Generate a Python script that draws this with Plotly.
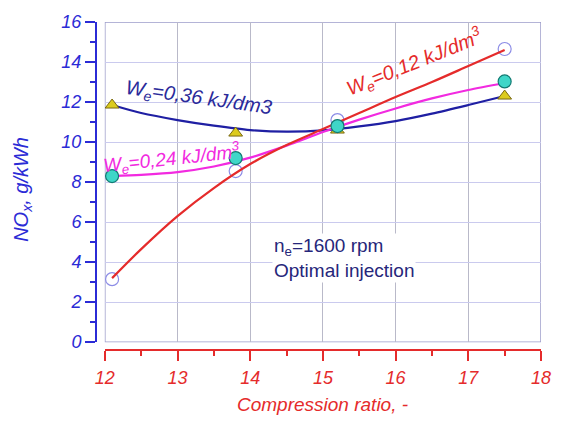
import plotly.graph_objects as go

# Measured points
x_meas = [12.1, 13.8, 15.2, 17.5]
nox_012 = [3.15, 8.55, 11.1, 14.65]
nox_024 = [8.3, 9.2, 10.8, 13.03]
nox_036 = [11.85, 10.45, 10.6, 12.3]

# Fitted curves
x_fit = [12.1, 12.5, 13, 13.5, 14, 14.5, 15, 15.5, 16, 16.5, 17, 17.5]
fit_012 = [3.2, 4.65, 6.3, 7.7, 8.9, 9.85, 10.65, 11.45, 12.25, 13.0, 13.8, 14.6]
fit_024 = [8.3, 8.36, 8.5, 8.78, 9.22, 9.82, 10.5, 11.12, 11.68, 12.18, 12.6, 12.95]
fit_036 = [11.85, 11.45, 11.1, 10.82, 10.6, 10.52, 10.58, 10.78, 11.05, 11.42, 11.85, 12.3]

x_ticks = [12, 13, 14, 15, 16, 17, 18]
y_ticks = [0, 2, 4, 6, 8, 10, 12, 14, 16]

RED = "#e52b2b"
BLUE_AX = "#2b2bd6"
NAVY = "#1f1fa3"
MAG = "#f22ae0"
FONT = "Liberation Sans, Arial, sans-serif"

fig = go.Figure()

fig.add_trace(go.Scatter(x=x_meas, y=nox_012, mode="markers",
                         marker=dict(symbol="circle-open", size=13, color="#8c8ce6", line=dict(width=1.2)),
                         showlegend=False))
fig.add_trace(go.Scatter(x=x_fit, y=fit_036, mode="lines",
                         line=dict(color=NAVY, width=2.2, shape="spline", smoothing=0.8),
                         showlegend=False))
fig.add_trace(go.Scatter(x=x_fit, y=fit_024, mode="lines",
                         line=dict(color=MAG, width=2.2, shape="spline", smoothing=0.8),
                         showlegend=False))
fig.add_trace(go.Scatter(x=x_fit, y=fit_012, mode="lines",
                         line=dict(color=RED, width=2.2, shape="spline", smoothing=0.8),
                         showlegend=False))
fig.add_trace(go.Scatter(x=x_meas, y=nox_036, mode="markers",
                         marker=dict(symbol="triangle-up", size=12, color="#dccb1e",
                                     line=dict(color="#7a6a12", width=1)),
                         showlegend=False))
fig.add_trace(go.Scatter(x=x_meas, y=nox_024, mode="markers",
                         marker=dict(symbol="circle", size=13, color="#3fd6c8",
                                     line=dict(color="#127a72", width=1.2)),
                         showlegend=False))

# frame
fig.add_shape(type="rect", xref="x", yref="y", x0=12, x1=18, y0=0, y1=16,
              line=dict(color="#9c9cca", width=1.5), layer="below")

fig.update_layout(
    width=563, height=422,
    margin=dict(l=96, r=13, t=15, b=72),
    paper_bgcolor="white", plot_bgcolor="white",
    font=dict(family=FONT),
    xaxis=dict(domain=[0.0198, 1], range=[12, 18], anchor="free", position=0,
               tickvals=x_ticks, ticks="outside", ticklen=10, tickwidth=2, tickcolor=RED,
               showline=True, linecolor=RED, linewidth=2,
               tickfont=dict(color=RED, size=18, style="italic", family=FONT),
               ticklabelstandoff=1,
               minor=dict(dtick=0.5, tick0=12, ticks="outside", ticklen=5, tickwidth=1.5, tickcolor=RED,
                          showgrid=False),
               showgrid=True, gridcolor="#b9b9c9", gridwidth=1, zeroline=False),
    yaxis=dict(domain=[0.0239, 1], range=[0, 16], anchor="free", position=0,
               tickvals=y_ticks, ticks="outside", ticklen=10, tickwidth=2, tickcolor=BLUE_AX,
               showline=True, linecolor=BLUE_AX, linewidth=2,
               tickfont=dict(color=BLUE_AX, size=18, style="italic", family=FONT),
               minor=dict(dtick=1, tick0=0, ticks="outside", ticklen=5, tickwidth=1.5, tickcolor=BLUE_AX,
                          showgrid=False),
               showgrid=True, gridcolor="#cacaee", gridwidth=1, zeroline=False),
)

# axis titles
fig.add_annotation(text="Compression ratio, -", xref="paper", yref="paper", x=0.509, y=-0.167,
                   showarrow=False, xanchor="center", yanchor="middle",
                   font=dict(color=RED, size=19, style="italic", family=FONT))
fig.add_annotation(text="NO<sub>x</sub>, g/kWh", xref="paper", yref="paper", x=-0.165, y=0.49,
                   showarrow=False, xanchor="center", yanchor="middle", textangle=-90,
                   font=dict(color=BLUE_AX, size=20, style="italic", family=FONT))

# curve labels
fig.add_annotation(text="W<sub>e</sub>=0,36 kJ/dm3", x=13.29, y=12.2, showarrow=False,
                   textangle=8, font=dict(color="#2a2a9a", size=20, style="italic", family=FONT))
fig.add_annotation(text="W<sub>e</sub>=0,24 kJ/dm<sup>3</sup>", x=12.92, y=9.2, showarrow=False,
                   textangle=-6, font=dict(color=MAG, size=19, style="italic", family=FONT))
fig.add_annotation(text="W<sub>e</sub>=0,12 kJ/dm<sup>3</sup>", x=16.25, y=14.0, showarrow=False,
                   textangle=-22, font=dict(color=RED, size=20, style="italic", family=FONT))

fig.add_annotation(text="n<sub>e</sub>=1600 rpm<br>Optimal injection", x=14.3, y=4.2, showarrow=False,
                   xanchor="left", yanchor="middle", align="left", bgcolor="white",
                   font=dict(color="#26267a", size=19, family=FONT))

fig.write_html("out.html")
